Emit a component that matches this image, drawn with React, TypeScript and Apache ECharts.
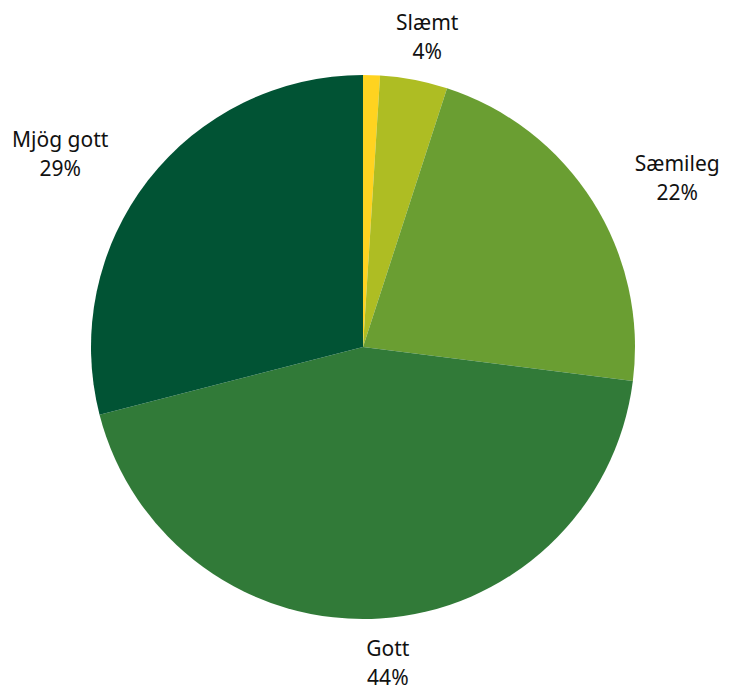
import React, { useEffect, useRef } from "react";
import * as echarts from "echarts";

const categories = ["Mjög slæmt", "Slæmt", "Sæmileg", "Gott", "Mjög gott"];
const values = [1, 4, 22, 44, 29];
const colors = ["#FFD320", "#AEBD23", "#6A9E32", "#317A38", "#015334"];
const showLabel = [false, true, true, true, true];

const CX = 363;
const CY = 347;

export default function App() {
  const ref = useRef<HTMLDivElement>(null);
  useEffect(() => {
    if (!ref.current) return;
    const chart = echarts.init(ref.current, null, { renderer: "svg" });
    chart.setOption({
      animation: false,
      backgroundColor: "#ffffff",
      series: [
        {
          type: "pie",
          center: [CX, CY],
          radius: 272,
          startAngle: 90,
          clockwise: true,
          avoidLabelOverlap: false,
          itemStyle: { borderWidth: 0 },
          label: {
            show: true,
            position: "outside",
            formatter: "{b}\n{c}%",
            fontFamily: "'Noto Sans', sans-serif",
            fontSize: 21,
            lineHeight: 29,
            color: "#111111",
          },
          labelLine: { show: false, length: 44, length2: 0 },
          labelLayout: (p: any) => {
            const r = p.labelRect;
            if (!r) return {};
            const anchor =
              p.align === "left" ? r.x : p.align === "right" ? r.x + r.width : r.x + r.width / 2;
            const midY = r.y + r.height / 2;
            const dx = anchor - CX;
            const dy = midY - CY;
            const dist = Math.sqrt(dx * dx + dy * dy) || 1;
            let x = anchor;
            if (Math.abs(dx) / dist > 0.5) {
              x = dx > 0 ? anchor + r.width / 2 : anchor - r.width / 2;
            }
            return { x, align: "center" };
          },
          emphasis: { disabled: true },
          data: categories.map((name, i) => ({
            name,
            value: values[i],
            itemStyle: { color: colors[i] },
            label: { show: showLabel[i] },
          })),
        },
      ],
    });
    return () => chart.dispose();
  }, []);
  return (
    <div
      ref={ref}
      style={{ position: "absolute", left: 0, top: 0, width: 734, height: 690 }}
    />
  );
}
